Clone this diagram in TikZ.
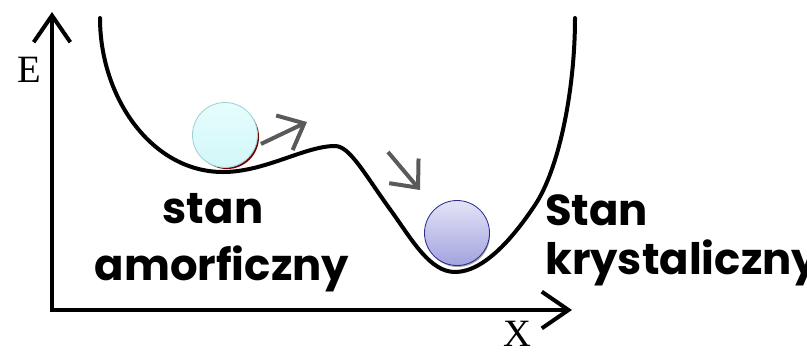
\documentclass[tikz,border=0pt]{standalone}
\usepackage{fontspec}
\setmainfont{Liberation Serif}
\newfontfamily\labelfont{Poppins}
\usetikzlibrary{arrows.meta, positioning, calc}
\definecolor{amorfTop}{HTML}{E6FDFD}
\definecolor{amorfBot}{HTML}{D2F7F8}
\definecolor{amorfRim}{HTML}{9FD0D6}
\definecolor{krystTop}{HTML}{E4E4F7}
\definecolor{krystBot}{HTML}{A2A2DF}
\definecolor{krystRim}{HTML}{2B2B8E}
\definecolor{arrowGray}{HTML}{5A5A5A}

\begin{document}
\begin{tikzpicture}[x=0.03cm, y=-0.03cm,
  axis/.style={line width=0.12cm, -{Straight Barb[length=0.8cm,width=1.1cm]}},
  move/.style={line width=0.12cm, draw=arrowGray, -{Straight Barb[length=0.66cm,width=1.15cm]}},
  axislabel/.style={font=\fontsize{33}{33}\selectfont, inner sep=0pt},
  state/.style={font=\labelfont\bfseries\fontsize{37}{37}\selectfont, anchor=base, inner sep=0pt},
  ball/.style={circle, minimum size=1.95cm, inner sep=0pt, line width=0.7pt}]
  \useasboundingbox (0,0) rectangle (807,354);

  % Axes
  \coordinate (O) at (52,310);
  \coordinate (Etip) at (52,12);
  \coordinate (Xtip) at (572,310);
  \draw[axis] ($(O)+(0,2)$) -- (Etip);
  \draw[axis] (O) -- (Xtip);
  \node[axislabel] (E) at (29,70) {E};
  \node[axislabel] (X) at (517,334) {X};

  % Energy curve
  \draw[line width=0.12cm, line cap=round]
    (100,18) .. controls (100,98) and (152,172) .. (223,172)
    .. controls (265,172) and (305,146) .. (335,146)
    .. controls (350,146) and (365,175) .. (392,212)
    .. controls (412,240) and (430,272) .. (455,272)
    .. controls (485,272) and (515,235) .. (535,205)
    .. controls (559,169) and (575,90) .. (575,18);

  % Balls
  \fill[red!45!black] (227,137) circle (32);
  \node[ball, draw=amorfRim, top color=amorfTop, bottom color=amorfBot] (amorf) at (225,135) {};
  \fill[black!35] (458,235) circle (32);
  \node[ball, draw=krystRim, top color=krystTop, bottom color=krystBot] (kryst) at (457,233) {};

  % Moves
  \coordinate (m1) at (307,122);
  \coordinate (m2a) at (388,152);
  \coordinate (m2b) at (420,190);
  \draw[move] (amorf.-14) ++(4,1) -- (m1);
  \draw[move] (m2a) -- (m2b);

  % Labels
  \node[state] (amorfA) at (213,223) {stan};
  \node[state] (amorfB) at (222,280) {amorficzny};
  \node[state, anchor=base west] (krystA) at (545,225) {Stan};
  \node[state, anchor=base west] (krystB) at (545,274) {krystaliczny};
\end{tikzpicture}
\end{document}
